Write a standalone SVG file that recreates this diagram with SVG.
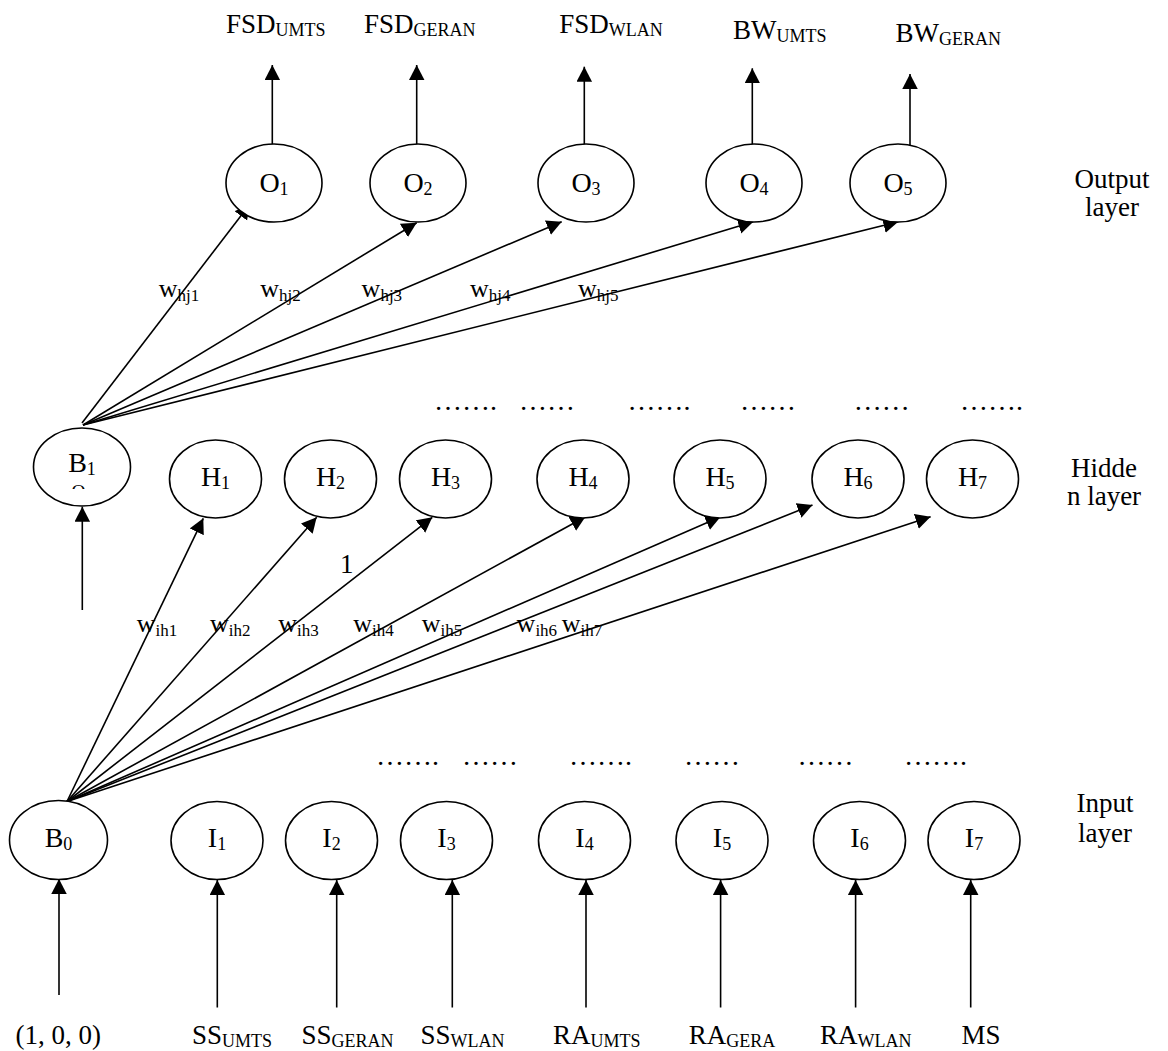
<svg xmlns="http://www.w3.org/2000/svg" width="1168" height="1051" viewBox="0 0 1168 1051">
<style>
text{font-family:"Liberation Serif","Times New Roman",serif;fill:#000}
.nd{fill:#fff;stroke:#000;stroke-width:1.6}
.nl{font-size:28px;text-anchor:middle}
.lb{font-size:27px}
.ly{font-size:27px;text-anchor:middle}
.wl{font-size:26px}
.dt{font-size:28px}
.sb{font-size:18px}
.ws{font-size:17px}
.cn line{stroke:#000;stroke-width:1.6;fill:none}
.ar{marker-end:url(#ah)}
</style>
<defs>
<marker id="ah" markerUnits="userSpaceOnUse" markerWidth="16" markerHeight="16" refX="15" refY="7.75" orient="auto"><path d="M0,0 L15,7.75 L0,15.5 z" fill="#000"/></marker>
<clipPath id="b1clip"><rect x="60" y="480" width="40" height="9"/></clipPath>
</defs>
<rect width="1168" height="1051" fill="#fff"/>

<g id="connectors" class="cn">
<line class="ar" x1="272.3" y1="144" x2="272.3" y2="65"/>
<line class="ar" x1="416.7" y1="144" x2="416.7" y2="65"/>
<line class="ar" x1="584.3" y1="144" x2="584.3" y2="66.7"/>
<line class="ar" x1="752.3" y1="144" x2="752.3" y2="68.3"/>
<line class="ar" x1="910" y1="151.7" x2="910" y2="74"/>
<line class="ar" x1="82" y1="423" x2="250" y2="204"/>
<line class="ar" x1="83" y1="425" x2="416.7" y2="222.7"/>
<line class="ar" x1="83" y1="425" x2="561.7" y2="221.7"/>
<line class="ar" x1="83" y1="425" x2="753.3" y2="221.7"/>
<line class="ar" x1="83" y1="425" x2="898.3" y2="221.7"/>
<line class="ar" x1="82.3" y1="610" x2="82.3" y2="506.7"/>
<line class="ar" x1="67" y1="801.5" x2="203.3" y2="518.3"/>
<line class="ar" x1="67" y1="801.5" x2="316.7" y2="517.3"/>
<line class="ar" x1="67" y1="801.5" x2="432.3" y2="517.3"/>
<line class="ar" x1="67" y1="801.5" x2="585.5" y2="516.7"/>
<line class="ar" x1="67" y1="801.5" x2="720.6" y2="516.7"/>
<line class="ar" x1="67" y1="801.5" x2="812.5" y2="505"/>
<line class="ar" x1="67" y1="801.5" x2="930.6" y2="516.7"/>
<line class="ar" x1="59" y1="995" x2="59" y2="879"/>
<line class="ar" x1="217.3" y1="1007.5" x2="217.3" y2="880"/>
<line class="ar" x1="336.7" y1="1007.5" x2="336.7" y2="880"/>
<line class="ar" x1="452.3" y1="1007.5" x2="452.3" y2="880"/>
<line class="ar" x1="586" y1="1007.5" x2="586" y2="880"/>
<line class="ar" x1="720.6" y1="1007.5" x2="720.6" y2="880"/>
<line class="ar" x1="855.6" y1="1007.5" x2="855.6" y2="880"/>
<line class="ar" x1="970.7" y1="1007.5" x2="970.7" y2="880"/>
</g>

<g id="O1"><ellipse class="nd" cx="274" cy="183" rx="48" ry="39"/><text class="nl" x="274" y="192">O<tspan class="sb" dy="3">1</tspan></text></g>
<g id="O2"><ellipse class="nd" cx="418" cy="183" rx="48" ry="39"/><text class="nl" x="418" y="192">O<tspan class="sb" dy="3">2</tspan></text></g>
<g id="O3"><ellipse class="nd" cx="586" cy="183" rx="48" ry="39"/><text class="nl" x="586" y="192">O<tspan class="sb" dy="3">3</tspan></text></g>
<g id="O4"><ellipse class="nd" cx="754" cy="183" rx="48" ry="39"/><text class="nl" x="754" y="192">O<tspan class="sb" dy="3">4</tspan></text></g>
<g id="O5"><ellipse class="nd" cx="898" cy="183" rx="48" ry="39"/><text class="nl" x="898" y="192">O<tspan class="sb" dy="3">5</tspan></text></g>

<g id="B1"><ellipse class="nd" cx="82" cy="467" rx="48.5" ry="39"/><text class="nl" x="82" y="472">B<tspan class="sb" dy="3">1</tspan></text><text class="nl" x="78.5" y="499" style="font-size:20px" clip-path="url(#b1clip)">O</text></g>
<g id="H1"><ellipse class="nd" cx="215.5" cy="479" rx="46" ry="39"/><text class="nl" x="215.5" y="486">H<tspan class="sb" dy="3">1</tspan></text></g>
<g id="H2"><ellipse class="nd" cx="330.5" cy="479" rx="46" ry="39"/><text class="nl" x="330.5" y="486">H<tspan class="sb" dy="3">2</tspan></text></g>
<g id="H3"><ellipse class="nd" cx="445.5" cy="479" rx="46" ry="39"/><text class="nl" x="445.5" y="486">H<tspan class="sb" dy="3">3</tspan></text></g>
<g id="H4"><ellipse class="nd" cx="583" cy="479" rx="46" ry="39"/><text class="nl" x="583" y="486">H<tspan class="sb" dy="3">4</tspan></text></g>
<g id="H5"><ellipse class="nd" cx="720" cy="479" rx="46" ry="39"/><text class="nl" x="720" y="486">H<tspan class="sb" dy="3">5</tspan></text></g>
<g id="H6"><ellipse class="nd" cx="858" cy="479" rx="46" ry="39"/><text class="nl" x="858" y="486">H<tspan class="sb" dy="3">6</tspan></text></g>
<g id="H7"><ellipse class="nd" cx="972.5" cy="479" rx="46" ry="39"/><text class="nl" x="972.5" y="486">H<tspan class="sb" dy="3">7</tspan></text></g>

<g id="B0"><ellipse class="nd" cx="58.5" cy="840" rx="49" ry="39.5"/><text class="nl" x="58.5" y="847">B<tspan class="sb" dy="3">0</tspan></text></g>
<g id="I1"><ellipse class="nd" cx="217" cy="840.5" rx="46" ry="39"/><text class="nl" x="217" y="847">I<tspan class="sb" dy="3">1</tspan></text></g>
<g id="I2"><ellipse class="nd" cx="331.5" cy="840.5" rx="46" ry="39"/><text class="nl" x="331.5" y="847">I<tspan class="sb" dy="3">2</tspan></text></g>
<g id="I3"><ellipse class="nd" cx="446.5" cy="840.5" rx="46" ry="39"/><text class="nl" x="446.5" y="847">I<tspan class="sb" dy="3">3</tspan></text></g>
<g id="I4"><ellipse class="nd" cx="584.5" cy="840.5" rx="46" ry="39"/><text class="nl" x="584.5" y="847">I<tspan class="sb" dy="3">4</tspan></text></g>
<g id="I5"><ellipse class="nd" cx="722" cy="840.5" rx="46" ry="39"/><text class="nl" x="722" y="847">I<tspan class="sb" dy="3">5</tspan></text></g>
<g id="I6"><ellipse class="nd" cx="859.5" cy="840.5" rx="46" ry="39"/><text class="nl" x="859.5" y="847">I<tspan class="sb" dy="3">6</tspan></text></g>
<g id="I7"><ellipse class="nd" cx="974" cy="840.5" rx="46" ry="39"/><text class="nl" x="974" y="847">I<tspan class="sb" dy="3">7</tspan></text></g>

<g id="output-labels">
<text class="lb" x="226" y="32.5">FSD<tspan class="sb" dy="3">UMTS</tspan></text>
<text class="lb" x="364" y="32.5">FSD<tspan class="sb" dy="3">GERAN</tspan></text>
<text class="lb" x="559.3" y="33">FSD<tspan class="sb" dy="3">WLAN</tspan></text>
<text class="lb" x="733" y="38.5">BW<tspan class="sb" dy="3">UMTS</tspan></text>
<text class="lb" x="895.5" y="42.3">BW<tspan class="sb" dy="3">GERAN</tspan></text>
</g>

<g id="layer-labels">
<text class="ly" x="1112" y="188">Output</text>
<text class="ly" x="1112" y="216">layer</text>
<text class="ly" x="1104" y="477">Hidde</text>
<text class="ly" x="1104" y="505">n layer</text>
<text class="ly" x="1105" y="812">Input</text>
<text class="ly" x="1105" y="842">layer</text>
</g>

<g id="weight-labels">
<text class="wl" x="158.8" y="297">w<tspan class="ws" dy="4">hj1</tspan></text>
<text class="wl" x="260.2" y="297">w<tspan class="ws" dy="4">hj2</tspan></text>
<text class="wl" x="361.6" y="297">w<tspan class="ws" dy="4">hj3</tspan></text>
<text class="wl" x="470" y="297">w<tspan class="ws" dy="4">hj4</tspan></text>
<text class="wl" x="577.9" y="297">w<tspan class="ws" dy="4">hj5</tspan></text>
<text class="wl" x="136.7" y="632">w<tspan class="ws" dy="4">ih1</tspan></text>
<text class="wl" x="210" y="632">w<tspan class="ws" dy="4">ih2</tspan></text>
<text class="wl" x="278.3" y="632">w<tspan class="ws" dy="4">ih3</tspan></text>
<text class="wl" x="353.3" y="632">w<tspan class="ws" dy="4">ih4</tspan></text>
<text class="wl" x="421.7" y="632">w<tspan class="ws" dy="4">ih5</tspan></text>
<text class="wl" x="516.6" y="632">w<tspan class="ws" dy="4">ih6</tspan></text>
<text class="wl" x="561.8" y="632">w<tspan class="ws" dy="4">ih7</tspan></text>
<text class="lb" x="340" y="573">1</text>
</g>

<g id="dots">
<text class="dt" x="434" y="410">…….</text>
<text class="dt" x="519" y="410">……</text>
<text class="dt" x="627.6" y="410">…….</text>
<text class="dt" x="740" y="410">……</text>
<text class="dt" x="853.7" y="410">……</text>
<text class="dt" x="960" y="410">…….</text>
<text class="dt" x="376" y="765">…….</text>
<text class="dt" x="462" y="765">……</text>
<text class="dt" x="569" y="765">…….</text>
<text class="dt" x="684" y="765">……</text>
<text class="dt" x="797.5" y="765">……</text>
<text class="dt" x="904" y="765">…….</text>
</g>

<g id="input-labels">
<text class="lb" x="15.5" y="1044">(1, 0, 0)</text>
<text class="lb" x="192" y="1044">SS<tspan class="sb" dy="3">UMTS</tspan></text>
<text class="lb" x="301.5" y="1044">SS<tspan class="sb" dy="3">GERAN</tspan></text>
<text class="lb" x="420.5" y="1044">SS<tspan class="sb" dy="3">WLAN</tspan></text>
<text class="lb" x="553" y="1044">RA<tspan class="sb" dy="3">UMTS</tspan></text>
<text class="lb" x="688.7" y="1044">RA<tspan class="sb" dy="3">GERA</tspan></text>
<text class="lb" x="820" y="1044">RA<tspan class="sb" dy="3">WLAN</tspan></text>
<text class="lb" x="961.5" y="1044">MS</text>
</g>
</svg>
